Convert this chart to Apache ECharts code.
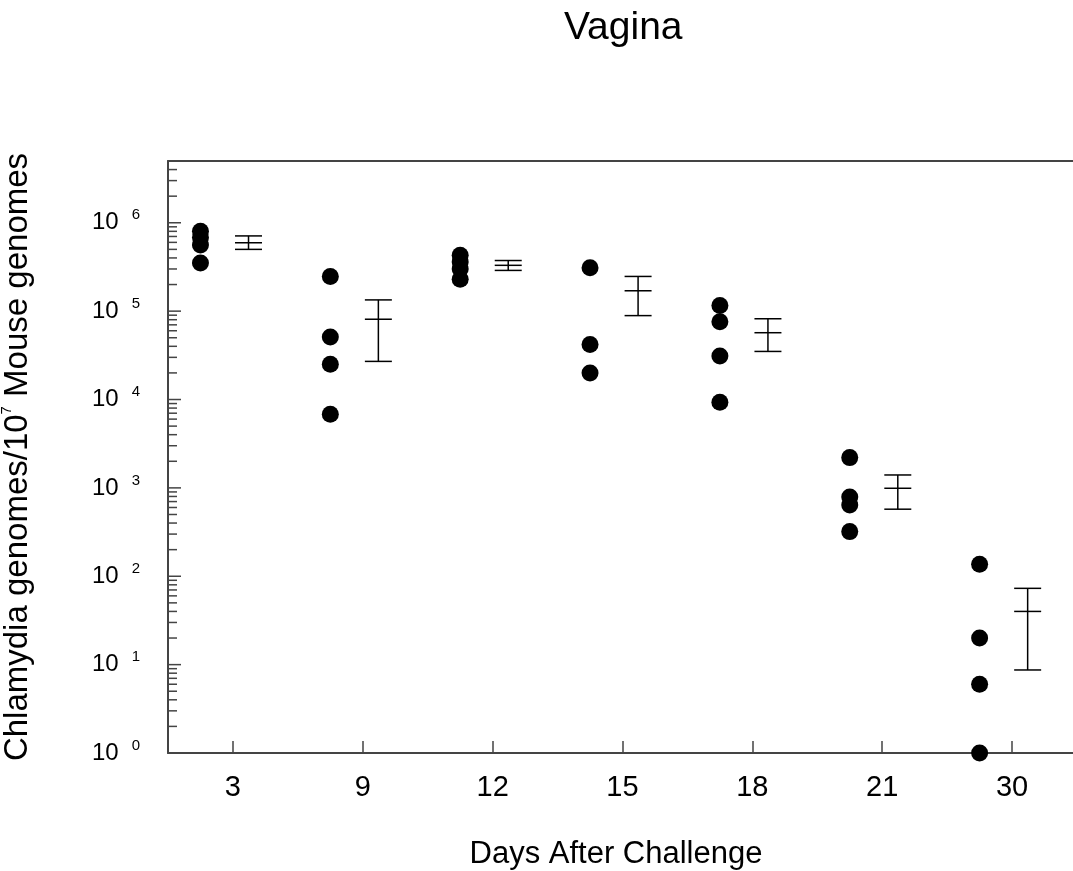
<!DOCTYPE html>
<html>
<head>
<meta charset="utf-8">
<script src="https://cdn.jsdelivr.net/npm/echarts@6/dist/echarts.min.js"></script>
<style>html,body{margin:0;padding:0;background:#fff;}#chart{width:1073px;height:871px;}</style>
</head>
<body>
<div id="chart"></div>
<script>
// ---- data ----
const days = ['3', '9', '12', '15', '18', '21', '30'];
const dotsDay3  = [8.0e5, 6.8e5, 5.6e5, 3.5e5];
const dotsDay9  = [2.47e5, 5.1e4, 2.5e4, 6.8e3];
const dotsDay12 = [4.3e5, 3.6e5, 3.0e5, 2.3e5];
const dotsDay15 = [3.1e5, 4.2e4, 2.0e4];
const dotsDay18 = [1.16e5, 7.6e4, 3.1e4, 9.3e3];
const dotsDay21 = [2.2e3, 790, 640, 320];
const dotsDay30 = [137, 20, 6, 1];
const meanVals  = [5.94e5, 8.1e4, 3.3e5, 1.7e5, 5.7e4, 990, 40];
const upperVals = [7.1e5, 1.34e5, 3.74e5, 2.47e5, 8.2e4, 1400, 73];
const lowerVals = [5.0e5, 2.7e4, 2.89e5, 8.9e4, 3.5e4, 574, 8.7];
const yMin = 1, yMax = 5e6;

// ---- build series data ----
const allDots = [dotsDay3, dotsDay9, dotsDay12, dotsDay15, dotsDay18, dotsDay21, dotsDay30];
const DOT_OFFSET = -0.25, BAR_OFFSET = 0.12;
const scatterData = [];
allDots.forEach((arr, i) => arr.forEach(v => scatterData.push([i + DOT_OFFSET, v])));
const errData = meanVals.map((m, i) => [i + BAR_OFFSET, lowerVals[i], upperVals[i], m]);

// log minor/major tick positions (axis structure)
const tickData = [];
for (let k = 0; k <= 6; k++) {
  for (let m = 1; m <= 9; m++) {
    const v = m * Math.pow(10, k);
    if (v < yMax) tickData.push([-0.5, v, m === 1 ? 1 : 0]);
  }
}

const AXIS_COLOR = '#444';
const FONT = '"Liberation Sans", Arial, sans-serif';

const chart = echarts.init(document.getElementById('chart'), null, {renderer: 'canvas'});
chart.setOption({
  backgroundColor: '#fff',
  animation: false,
  title: {
    text: 'Vagina',
    left: 559, top: 4,
    textStyle: {fontFamily: FONT, fontSize: 39, fontWeight: 'normal', color: '#000'}
  },
  grid: {left: 168, right: -4, top: 161, bottom: 118, containLabel: false, outerBoundsMode: 'none'},
  xAxis: [{
    type: 'category',
    data: days,
    boundaryGap: true,
    position: 'bottom',
    axisLine: {show: true, onZero: false, lineStyle: {color: AXIS_COLOR, width: 2}},
    axisTick: {show: true, inside: true, alignWithLabel: true, length: 12, lineStyle: {color: AXIS_COLOR, width: 1.5}},
    axisLabel: {fontFamily: FONT, fontSize: 29, color: '#000', margin: 20},
    splitLine: {show: false},
    name: 'Days After Challenge',
    nameLocation: 'middle',
    nameGap: 101,
    nameTextStyle: {fontFamily: FONT, fontSize: 31, color: '#000', verticalAlign: 'middle', padding: [0, 13, 0, 0]}
  }, {
    type: 'value',
    min: -0.5, max: 6.5,
    position: 'top',
    axisLine: {show: true, onZero: false, lineStyle: {color: AXIS_COLOR, width: 2}},
    axisTick: {show: false},
    axisLabel: {show: false},
    splitLine: {show: false}
  }],
  yAxis: [{
    type: 'log',
    logBase: 10,
    min: yMin, max: yMax,
    interval: 1,
    axisLine: {show: true, onZero: false, lineStyle: {color: AXIS_COLOR, width: 2}},
    axisTick: {show: false},
    splitLine: {show: false},
    axisLabel: {
      margin: 28,
      formatter: function (v) {
        const e = Math.log10(v);
        const r = Math.round(e);
        if (Math.abs(e - r) > 1e-6) return '';
        return '{b|10}{s|' + r + '}';
      },
      rich: {
        b: {fontFamily: FONT, fontSize: 24, color: '#000', lineHeight: 30},
        s: {fontFamily: FONT, fontSize: 15, color: '#000', lineHeight: 18, verticalAlign: 'top', padding: [0, 0, 0, 13]}
      }
    },
    name: '{a|Chlamydia genomes/10}{s|7}{a| Mouse genomes}',
    nameLocation: 'middle',
    nameGap: 150,
    nameTextStyle: {
      verticalAlign: 'middle',
      rich: {
        a: {fontFamily: FONT, fontSize: 33, color: '#000', lineHeight: 38},
        s: {fontFamily: FONT, fontSize: 15, color: '#000', lineHeight: 20, verticalAlign: 'top'}
      }
    }
  }],
  series: [{
    type: 'custom',
    name: 'yticks',
    xAxisIndex: 1, yAxisIndex: 0,
    silent: true,
    clip: false,
    data: tickData,
    renderItem: function (params, api) {
      const p = api.coord([api.value(0), api.value(1)]);
      const len = api.value(2) === 1 ? 13 : 9;
      return {type: 'line', shape: {x1: p[0], y1: p[1], x2: p[0] + len, y2: p[1]},
        style: {stroke: AXIS_COLOR, lineWidth: 1.5}};
    }
  }, {
    type: 'custom',
    name: 'errorbars',
    xAxisIndex: 1, yAxisIndex: 0,
    clip: false,
    data: errData,
    renderItem: function (params, api) {
      const x = api.value(0);
      const lo = api.coord([x, api.value(1)]);
      const hi = api.coord([x, api.value(2)]);
      const mid = api.coord([x, api.value(3)]);
      const hw = 13.5;
      const st = {stroke: '#000', lineWidth: 1.5};
      return {type: 'group', children: [
        {type: 'line', shape: {x1: lo[0], y1: lo[1], x2: hi[0], y2: hi[1]}, style: st},
        {type: 'line', shape: {x1: lo[0] - hw, y1: lo[1], x2: lo[0] + hw, y2: lo[1]}, style: st},
        {type: 'line', shape: {x1: hi[0] - hw, y1: hi[1], x2: hi[0] + hw, y2: hi[1]}, style: st},
        {type: 'line', shape: {x1: mid[0] - hw, y1: mid[1], x2: mid[0] + hw, y2: mid[1]}, style: st}
      ]};
    }
  }, {
    type: 'scatter',
    name: 'samples',
    xAxisIndex: 1, yAxisIndex: 0,
    clip: false,
    symbol: 'circle',
    symbolSize: 17,
    itemStyle: {color: '#000', opacity: 1},
    data: scatterData,
    z: 5
  }]
});
</script>
</body>
</html>
